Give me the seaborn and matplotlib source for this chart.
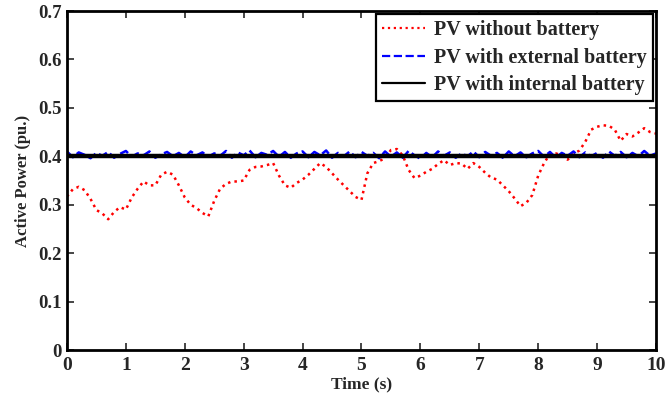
import numpy as np
import pandas as pd
import matplotlib
matplotlib.use("Agg")
import matplotlib.pyplot as plt
import seaborn as sns

# sample times (s), 0.1 s step
time = np.round(np.arange(0, 10.01, 0.1), 2)

pv_no_battery = [
    0.317, 0.332, 0.337, 0.330, 0.312, 0.289, 0.282, 0.270, 0.285, 0.295,
    0.290, 0.315, 0.333, 0.348, 0.340, 0.340, 0.362, 0.368, 0.362, 0.340,
    0.315, 0.300, 0.293, 0.283, 0.276, 0.308, 0.333, 0.343, 0.348, 0.348,
    0.350, 0.372, 0.378, 0.379, 0.382, 0.386, 0.360, 0.340, 0.335, 0.345,
    0.352, 0.362, 0.374, 0.386, 0.378, 0.365, 0.352, 0.340, 0.328, 0.316,
    0.310, 0.365, 0.386, 0.390, 0.396, 0.413, 0.415, 0.402, 0.372, 0.355,
    0.360, 0.368, 0.374, 0.384, 0.392, 0.382, 0.386, 0.385, 0.374, 0.386,
    0.378, 0.366, 0.356, 0.352, 0.340, 0.328, 0.313, 0.297, 0.304, 0.320,
    0.360, 0.386, 0.405, 0.406, 0.402, 0.393, 0.405, 0.412, 0.430, 0.455,
    0.461, 0.464, 0.463, 0.455, 0.432, 0.446, 0.441, 0.449, 0.458, 0.450,
    0.447,
]

pv_ext_battery = [
    0.410, 0.398, 0.408, 0.403, 0.396, 0.407, 0.401, 0.409, 0.397, 0.405,
    0.411, 0.399, 0.406, 0.402, 0.410, 0.397, 0.404, 0.409, 0.400, 0.407,
    0.398, 0.410, 0.402, 0.408, 0.399, 0.406, 0.401, 0.411, 0.397, 0.408,
    0.402, 0.412, 0.398, 0.407, 0.403, 0.411, 0.399, 0.409, 0.397, 0.406,
    0.410, 0.398, 0.409, 0.402, 0.412, 0.397, 0.407, 0.400, 0.410, 0.398,
    0.409, 0.401, 0.407, 0.396, 0.410, 0.399, 0.408, 0.397, 0.411, 0.402,
    0.395, 0.407, 0.398, 0.410, 0.401, 0.408, 0.397, 0.406, 0.400, 0.410,
    0.398, 0.409, 0.401, 0.407, 0.397, 0.410, 0.400, 0.408, 0.398, 0.406,
    0.411, 0.399, 0.409, 0.397, 0.407, 0.401, 0.410, 0.398, 0.408, 0.400,
    0.407, 0.397, 0.410, 0.401, 0.409, 0.398, 0.407, 0.400, 0.411, 0.401,
    0.406,
]

pv_int_battery = [0.400] * len(time)

labels = ["PV without battery", "PV with external battery", "PV with internal battery"]

sns.set_style("ticks")
plt.rcParams["font.family"] = ["Liberation Serif", "DejaVu Serif"]
plt.rcParams["font.weight"] = "bold"
plt.rcParams["axes.labelweight"] = "bold"

fig = plt.figure(figsize=(6.67, 3.99), dpi=100)
ax = fig.add_axes([0.1004, 0.1228, 0.8831, 0.8496])

sns.lineplot(x=time, y=pv_no_battery, ax=ax, color="#ff0000", linestyle=":",
             linewidth=1.8, label=labels[0])
sns.lineplot(x=time, y=pv_ext_battery, ax=ax, color="#0000ff", linestyle="--",
             linewidth=1.8, label=labels[1])
sns.lineplot(x=time, y=pv_int_battery, ax=ax, color="black", linestyle="-",
             linewidth=3.2, label=labels[2])

ax.set_xlim(0, 10)
ax.set_ylim(0, 0.7)
ax.set_xticks(range(0, 11))
ax.set_yticks(np.round(np.arange(0, 0.71, 0.1), 1))
ax.set_yticklabels(["0", "0.1", "0.2", "0.3", "0.4", "0.5", "0.6", "0.7"])
ax.tick_params(direction="in", top=True, right=True, length=5, width=1.2, pad=4)
ax.tick_params(axis="x", labelsize=14, pad=5)
ax.tick_params(axis="y", labelsize=13.5)
for lbl in ax.get_xticklabels() + ax.get_yticklabels():
    lbl.set_fontweight("bold")
for s in ax.spines.values():
    s.set_linewidth(2)
    s.set_color("black")

ax.set_xlabel("Time (s)", fontsize=12.5, fontweight="bold", labelpad=1.5)
ax.set_ylabel("Active Power (pu.)", fontsize=12, fontweight="bold", labelpad=5)

leg = ax.legend(loc="upper right", fancybox=False, framealpha=1, edgecolor="black",
                fontsize=14.5, handlelength=2.15, borderaxespad=0.15,
                labelspacing=0.38, borderpad=0.3, handletextpad=0.45)
leg.get_frame().set_linewidth(1.6)
for t in leg.get_texts():
    t.set_fontweight("bold")
for h in leg.legend_handles:
    h.set_linewidth(1.6)

fig.savefig("out.png", dpi=100)
